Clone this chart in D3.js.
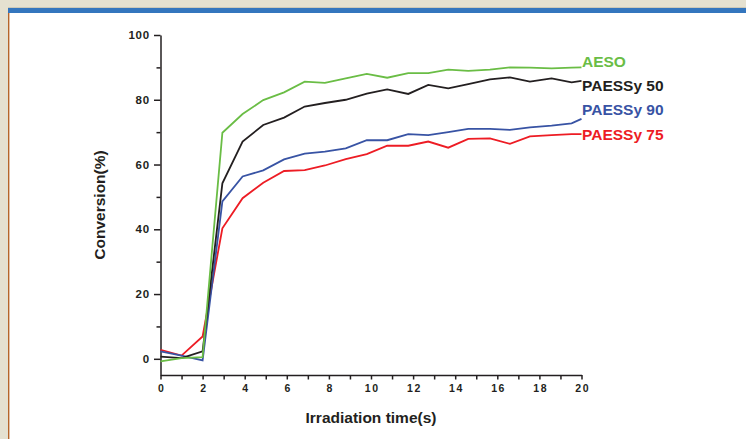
<!DOCTYPE html>
<html>
<head>
<meta charset="utf-8">
<script src="https://cdn.jsdelivr.net/npm/d3@7"></script>
<style>
  html, body { margin: 0; padding: 0; background: #e5e1d0; }
  svg { display: block; }
</style>
</head>
<body>
<script>
// ---- data ----
const times = [0, 1, 2, 2.94, 3.9, 4.88, 5.87, 6.85, 7.81, 8.8, 9.8, 10.77, 11.77, 12.72, 13.67, 14.62, 15.65, 16.6, 17.55, 18.58, 19.53, 20];
const aeso     = [-0.8, 0.2, 0.5, 69.8, 75.6, 79.9, 82.3, 85.6, 85.2, 86.6, 88.0, 86.8, 88.2, 88.2, 89.3, 88.9, 89.3, 90.0, 89.9, 89.7, 89.9, 90.0];
const paessy50 = [0.7, 0.2, 2.3, 54.2, 67.1, 72.2, 74.5, 77.9, 79.0, 80.0, 81.9, 83.2, 81.8, 84.6, 83.5, 84.8, 86.3, 86.9, 85.6, 86.6, 85.4, 85.8];
const paessy90 = [2.3, 1.0, -0.5, 48.6, 56.3, 58.2, 61.6, 63.4, 64.0, 65.0, 67.5, 67.5, 69.4, 69.1, 70.0, 71.0, 71.0, 70.7, 71.5, 72.0, 72.7, 74.1];
const paessy75 = [2.8, 1.0, 6.9, 40.3, 49.6, 54.4, 58.0, 58.3, 59.7, 61.7, 63.2, 65.8, 65.8, 67.1, 65.2, 67.9, 68.1, 66.4, 68.7, 69.1, 69.4, 69.4];
const seriesNames = ["AESO", "PAESSy 50", "PAESSy 90", "PAESSy 75"];
const seriesColors = ["#6abd45", "#231f20", "#3853a4", "#ed1c24"];
const xTicks = [0, 2, 4, 6, 8, 10, 12, 14, 16, 18, 20];
const xMinorTicks = [1, 3, 5, 7, 9, 11, 13, 15, 17, 19];
const yTicks = [0, 20, 40, 60, 80, 100];
const yMinorTicks = [10, 30, 50, 70, 90];
const xTitle = "Irradiation time(s)";
const yTitle = "Conversion(%)";

const W = 746, H = 439;
const svg = d3.select("body").append("svg").attr("width", W).attr("height", H);

// page frame
svg.append("rect").attr("x", 0).attr("y", 0).attr("width", W).attr("height", H).attr("fill", "#e5e1d0");
svg.append("rect").attr("x", 9).attr("y", 8).attr("width", W - 9).attr("height", H - 8).attr("fill", "#ffffff");
svg.append("line").attr("x1", 8).attr("x2", W).attr("y1", 7.5).attr("y2", 7.5).attr("stroke", "#cdc9b8").attr("stroke-width", 1);
svg.append("rect").attr("x", 8).attr("y", 8).attr("width", W - 8).attr("height", 5).attr("fill", "#3476be");
svg.append("line").attr("x1", 8.7).attr("x2", 8.7).attr("y1", 13).attr("y2", H).attr("stroke", "#b5652a").attr("stroke-width", 1.4);

const x = d3.scaleLinear().domain([0, 20]).range([160.5, 581.5]);
const y = d3.scaleLinear().domain([-5, 100]).range([375, 35]);

const font = "'Liberation Sans', Arial, Helvetica, sans-serif";

// X axis
const gx = svg.append("g").attr("transform", `translate(0,${y(-5)})`);
gx.call(d3.axisBottom(x).tickValues(xMinorTicks).tickSize(4.5).tickFormat(""));
gx.call(g => g.select(".domain").remove());
const gx2 = svg.append("g").attr("transform", `translate(0,${y(-5)})`)
  .call(d3.axisBottom(x).tickValues(xTicks).tickSize(4.5).tickSizeOuter(0).tickPadding(5).tickFormat(d3.format("d")));
[gx, gx2].forEach(g => {
  g.selectAll("path, line").attr("stroke", "#231f20").attr("stroke-width", 1.5);
  g.selectAll("text").attr("font-family", font).attr("font-weight", "bold").attr("font-size", 10.5)
    .attr("fill", "#231f20").attr("letter-spacing", "1.6px").attr("dx", "0.8");
});

// Y axis
const gy = svg.append("g").attr("transform", `translate(${x(0)},0)`);
gy.call(d3.axisLeft(y).tickValues(yMinorTicks).tickSize(4).tickFormat(""));
gy.call(g => g.select(".domain").remove());
const gy2 = svg.append("g").attr("transform", `translate(${x(0)},0)`)
  .call(d3.axisLeft(y).tickValues(yTicks).tickSize(6.5).tickSizeOuter(0).tickPadding(4).tickFormat(d3.format("d")));
[gy, gy2].forEach(g => {
  g.selectAll("path, line").attr("stroke", "#231f20").attr("stroke-width", 1.5);
  g.selectAll("text").attr("font-family", font).attr("font-weight", "bold").attr("font-size", 11.5)
    .attr("fill", "#231f20").attr("letter-spacing", "0.8px");
});

// Axis titles
svg.append("text").attr("x", (x(0) + x(20)) / 2).attr("y", 422.5).attr("text-anchor", "middle")
  .attr("font-family", font).attr("font-weight", "bold").attr("font-size", 15.5).attr("fill", "#231f20").text(xTitle);
svg.append("text").attr("transform", `translate(105,${(y(-5) + y(100)) / 2}) rotate(-90)`).attr("text-anchor", "middle")
  .attr("font-family", font).attr("font-weight", "bold").attr("font-size", 15.5).attr("fill", "#231f20").text(yTitle);

// Lines
const allSeries = [aeso, paessy50, paessy90, paessy75];
const line = d3.line().x((d, i) => x(times[i])).y(d => y(d));
const drawOrder = [3, 2, 1, 0];
drawOrder.forEach(k => {
  svg.append("path").datum(allSeries[k]).attr("d", line).attr("fill", "none")
    .attr("stroke", seriesColors[k]).attr("stroke-width", 1.8).attr("stroke-linejoin", "miter");
});

// Labels
const labelBaselines = [66.7, 90.7, 115, 140];
seriesNames.forEach((n, k) => {
  svg.append("text").attr("x", 582).attr("y", labelBaselines[k]).attr("font-family", font)
    .attr("font-weight", "bold").attr("font-size", 15.5).attr("fill", seriesColors[k]).text(n);
});
</script>
</body>
</html>
